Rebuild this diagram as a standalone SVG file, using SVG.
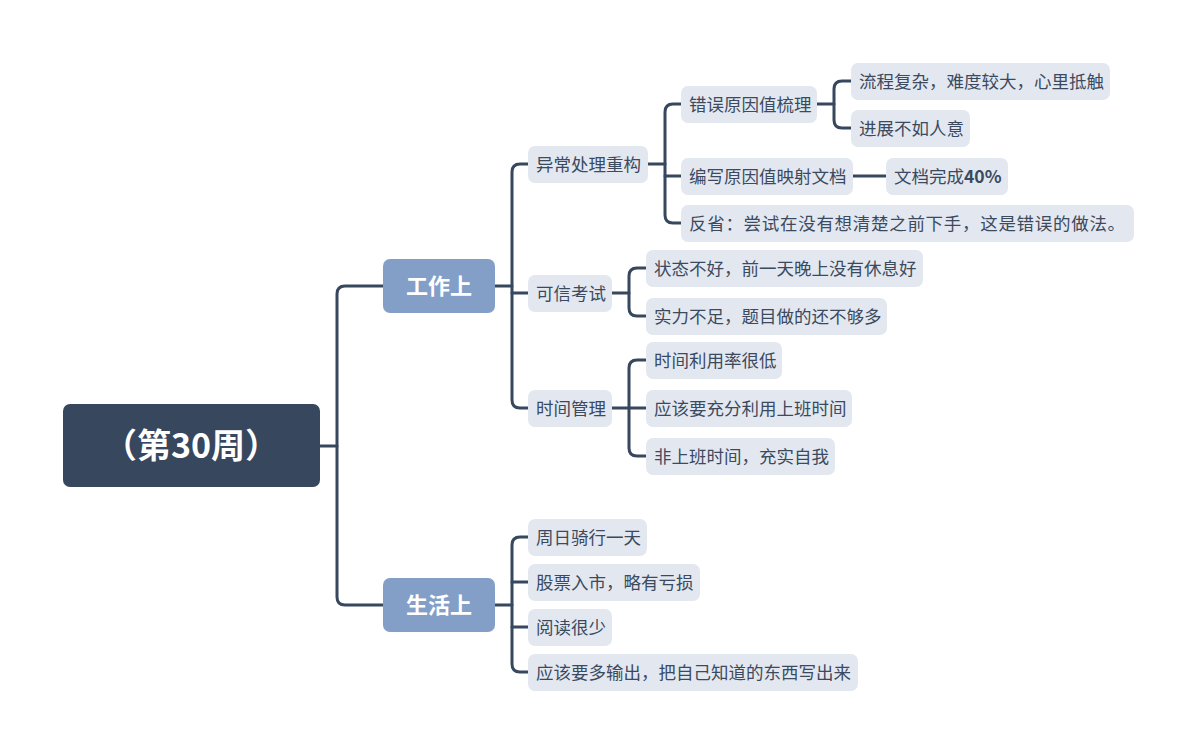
<svg xmlns="http://www.w3.org/2000/svg" width="1197" height="753" viewBox="0 0 1197 753">
<style>
.bg{fill:#ffffff}
.root rect{fill:#36475e}
.root text{fill:#ffffff;font-family:"Noto Sans CJK SC","Noto Sans",sans-serif;font-size:34px;font-weight:bold;text-anchor:middle}
.l1 rect{fill:#839fc8}
.l1 text{fill:#ffffff;font-family:"Noto Sans CJK SC","Noto Sans",sans-serif;font-size:22px;font-weight:bold;text-anchor:middle}
.n rect{fill:#e3e8f0}
.n text{fill:#3b4a5f;font-family:"Noto Sans CJK SC","Noto Sans",sans-serif;font-size:17.5px;text-anchor:start}
.conn path{fill:none;stroke:#36475e;stroke-width:3;stroke-linecap:round;stroke-linejoin:round}
</style>
<rect class="bg" x="0" y="0" width="1197" height="753"/>
<g id="connectors" class="conn">
<path d="M320,446 H337"/>
<path d="M383,286 H345 Q337,286 337,294 V597 Q337,605 345,605 H383"/>
<path d="M495,286 H512"/>
<path d="M528,164 H520 Q512,164 512,172 V400 Q512,408 520,408 H528"/>
<path d="M512,293 H528"/>
<path d="M648,164 H665"/>
<path d="M681,104 H673 Q665,104 665,112 V215 Q665,223 673,223 H681"/>
<path d="M665,176 H681"/>
<path d="M817,104 H834"/>
<path d="M851,81 H842 Q834,81 834,89 V120 Q834,128 842,128 H851"/>
<path d="M853,176 H886"/>
<path d="M612,293 H629"/>
<path d="M646,268 H637 Q629,268 629,276 V308 Q629,316 637,316 H646"/>
<path d="M612,408 H646"/>
<path d="M646,360 H637 Q629,360 629,368 V448 Q629,456 637,456 H646"/>
<path d="M495,605 H512"/>
<path d="M528,537 H520 Q512,537 512,545 V664 Q512,672 520,672 H528"/>
<path d="M512,582 H528"/>
<path d="M512,627 H528"/>
</g>
<g id="root" class="root"><rect x="63" y="404" width="257" height="83" rx="7"/><text x="191" y="458">（第30周）</text></g>
<g id="work" class="l1"><rect x="383" y="259" width="112" height="54" rx="7"/><text x="439" y="294">工作上</text></g>
<g id="life" class="l1"><rect x="383" y="578" width="112" height="54" rx="7"/><text x="439" y="613">生活上</text></g>
<g id="n-yichang" class="n"><rect x="528" y="146" width="120" height="37" rx="7"/><text x="536" y="170.5">异常处理重构</text></g>
<g id="n-kexin" class="n"><rect x="528" y="275" width="84" height="37" rx="7"/><text x="536" y="299.5">可信考试</text></g>
<g id="n-shijian" class="n"><rect x="528" y="390" width="84" height="37" rx="7"/><text x="536" y="414.5">时间管理</text></g>
<g id="n-cuowu" class="n"><rect x="681" y="86" width="136" height="37" rx="7"/><text x="689" y="110.5">错误原因值梳理</text></g>
<g id="n-bianxie" class="n"><rect x="681" y="158" width="172" height="37" rx="7"/><text x="689" y="182.5">编写原因值映射文档</text></g>
<g id="n-fanxing" class="n"><rect x="681" y="205" width="453" height="37" rx="7"/><text x="689" y="229.5" letter-spacing="0.7">反省：尝试在没有想清楚之前下手，这是错误的做法。</text></g>
<g id="n-liucheng" class="n"><rect x="851" y="63" width="259" height="37" rx="7"/><text x="859" y="87.5">流程复杂，难度较大，心里抵触</text></g>
<g id="n-jinzhan" class="n"><rect x="851" y="110" width="119" height="37" rx="7"/><text x="859" y="134.5">进展不如人意</text></g>
<g id="n-wendang" class="n"><rect x="886" y="158" width="122" height="37" rx="7"/><text x="894" y="182.5">文档完成<tspan font-weight="bold">40%</tspan></text></g>
<g id="n-zhuangtai" class="n"><rect x="646" y="250" width="277" height="37" rx="7"/><text x="654" y="274.5">状态不好，前一天晚上没有休息好</text></g>
<g id="n-shili" class="n"><rect x="646" y="298" width="241" height="37" rx="7"/><text x="654" y="322.5">实力不足，题目做的还不够多</text></g>
<g id="n-liyonglv" class="n"><rect x="646" y="342" width="136" height="37" rx="7"/><text x="654" y="366.5">时间利用率很低</text></g>
<g id="n-chongfen" class="n"><rect x="646" y="390" width="206" height="37" rx="7"/><text x="654" y="414.5">应该要充分利用上班时间</text></g>
<g id="n-feishangban" class="n"><rect x="646" y="438" width="189" height="37" rx="7"/><text x="654" y="462.5">非上班时间，充实自我</text></g>
<g id="n-qixing" class="n"><rect x="528" y="519" width="119" height="37" rx="7"/><text x="536" y="543.5">周日骑行一天</text></g>
<g id="n-gupiao" class="n"><rect x="528" y="564" width="172" height="37" rx="7"/><text x="536" y="588.5">股票入市，略有亏损</text></g>
<g id="n-yuedu" class="n"><rect x="528" y="609" width="84" height="37" rx="7"/><text x="536" y="633.5">阅读很少</text></g>
<g id="n-shuchu" class="n"><rect x="528" y="654" width="330" height="37" rx="7"/><text x="536" y="678.5">应该要多输出，把自己知道的东西写出来</text></g>
</svg>
